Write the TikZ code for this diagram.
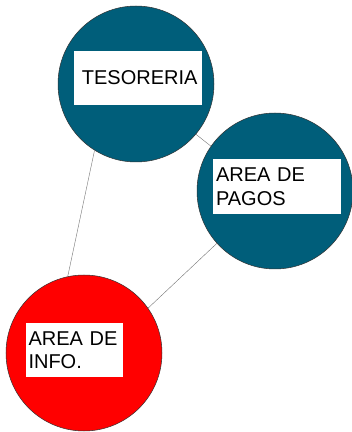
\documentclass[tikz,border=0pt]{standalone}
\usepackage{fontspec}
\setmainfont{Liberation Sans}
\usepackage{tikz}
\definecolor{tealdark}{RGB}{0,94,122}
\definecolor{redarea}{RGB}{255,0,0}

\begin{document}
\begin{tikzpicture}[
    x=1pt, y=1pt,
    bubble/.style={draw=black!80, line width=0.5pt, circle, minimum size=156pt, inner sep=0pt},
    label/.style={fill=white, inner sep=0pt, font=\fontsize{20}{23.5}\selectfont, align=left},
    link/.style={draw=black!55, line width=0.4pt}
]
\useasboundingbox (0,0) rectangle (352,432);

% --- CIRCLES ---

% 1. Tesoreria
\node[bubble, fill=tealdark] (tes) at (136, 348) {};
% 2. Area de pagos
\node[bubble, fill=tealdark] (pagos) at (275, 241) {};
% 3. Area de info
\node[bubble, fill=redarea] (info) at (84, 79) {};

% --- TEXT BOXES ---

\node[label, minimum width=128pt, minimum height=54pt, text width=119pt, align=right] (tesbox) at (138, 354) {TESORERIA};
\node[label, minimum width=128pt, minimum height=55pt, text width=122pt] (pagosbox) at (277, 245.5) {AREA DE\\PAGOS};
\node[label, minimum width=97pt, minimum height=54pt, text width=92pt] (infobox) at (74.5, 82) {AREA DE\\INFO.};

% --- CONNECTIONS ---

\draw[link] (tes.238) -- (info.102);
\draw[link] (tes.320) -- (pagos.145);
\draw[link] (pagos.222) -- (info.35);

\end{tikzpicture}
\end{document}
